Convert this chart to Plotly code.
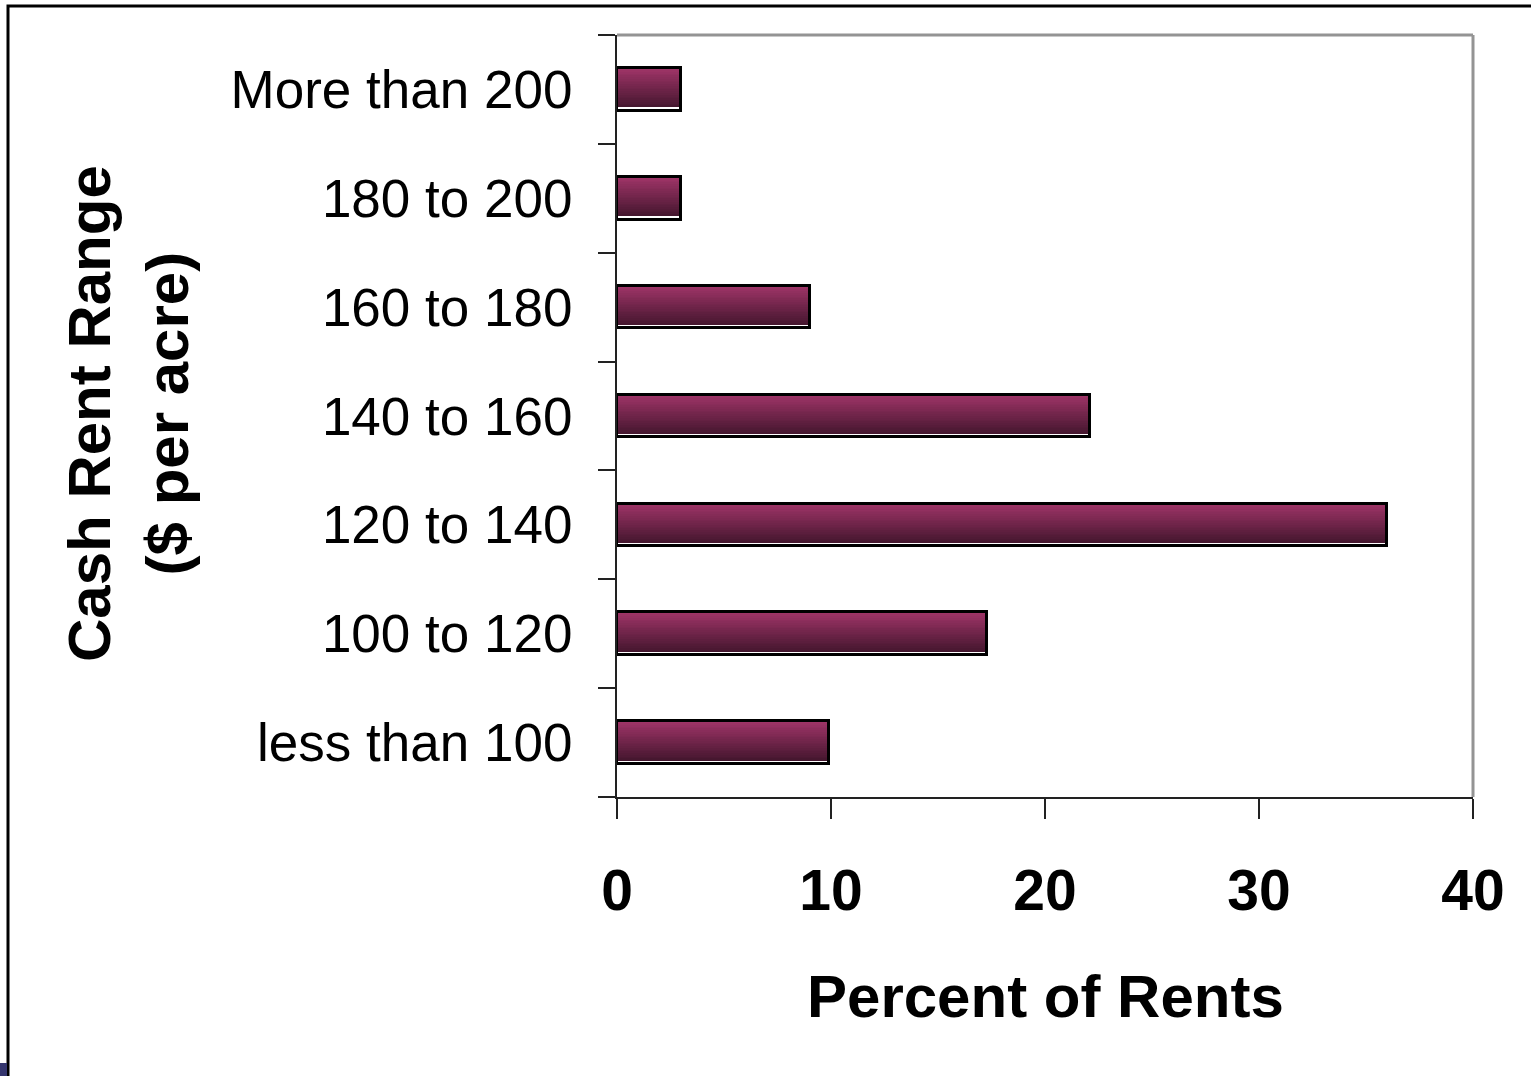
import plotly.graph_objects as go

# Cash rent ranges ($ per acre), listed bottom to top, and share of rents (%)
ranges = ["less than 100", "100 to 120", "120 to 140", "140 to 160",
          "160 to 180", "180 to 200", "More than 200"]
percent = [9.9, 17.3, 36, 22.1, 9, 3, 3]

# Canvas geometry (pixels)
W, H = 1531, 1076
L, R, T, B = 617, 1473, 35, 797
PW, PH = R - L, B - T


def px(x):
    return (x - L) / PW


def py(y):
    return (B - y) / PH


BAR_W = 0.39
N_SLICES = 24
TOP_RGB = (158, 52, 103)
BOT_RGB = (62, 20, 42)

fig = go.Figure()

# Shaded bar body: thin horizontal bands stacked from dark (bottom) to light (top)
for i in range(N_SLICES):
    t = i / (N_SLICES - 1)
    c = tuple(round(BOT_RGB[k] + (TOP_RGB[k] - BOT_RGB[k]) * t) for k in range(3))
    fig.add_trace(go.Bar(
        y=ranges, x=percent, orientation="h",
        width=BAR_W / N_SLICES * 1.15,
        offset=-BAR_W / 2 + i * BAR_W / N_SLICES,
        marker=dict(color="rgb(%d,%d,%d)" % c, line=dict(width=0)),
        hoverinfo="skip", showlegend=False,
    ))

# Thin white highlight along the bottom edge
fig.add_trace(go.Bar(
    y=ranges, x=percent, orientation="h",
    width=0.018, offset=-BAR_W / 2 + 0.012,
    marker=dict(color="white", line=dict(width=0)),
    hoverinfo="skip", showlegend=False,
))

# Black outline
fig.add_trace(go.Bar(
    y=ranges, x=percent, orientation="h",
    width=BAR_W, offset=-BAR_W / 2,
    marker=dict(color="rgba(0,0,0,0)", line=dict(color="black", width=3)),
    hovertemplate="%{y}: %{x}%<extra></extra>", showlegend=False,
))

shapes = [
    # grey frame on the top and right of the plot area
    dict(type="line", xref="paper", yref="paper", x0=0, x1=1, y0=1, y1=1,
         line=dict(color="#949494", width=3)),
    dict(type="line", xref="paper", yref="paper", x0=1, x1=1, y0=0, y1=1,
         line=dict(color="#949494", width=3)),
    # outer page border
    dict(type="rect", xref="paper", yref="paper",
         x0=px(8), x1=px(1560), y0=py(1100), y1=py(6),
         line=dict(color="black", width=3), fillcolor="rgba(0,0,0,0)"),
    # small corner patch
    dict(type="rect", xref="paper", yref="paper",
         x0=px(-2), x1=px(7), y0=py(1078), y1=py(1063),
         line=dict(width=0), fillcolor="#34356e"),
]

annotations = [
    dict(text="Percent of Rents", xref="paper", yref="paper",
         x=0.5, y=py(996), xanchor="center", yanchor="middle", showarrow=False,
         font=dict(family="Liberation Sans, Arial", size=60, color="black", weight="bold")),
    dict(text="Cash Rent Range<br>($ per acre)", xref="paper", yref="paper",
         x=px(128), y=py(414), xanchor="center", yanchor="middle", showarrow=False,
         textangle=-90,
         font=dict(family="Liberation Sans, Arial", size=60, color="black", weight="bold")),
]

fig.update_layout(
    width=W, height=H,
    margin=dict(l=L, r=W - R, t=T, b=H - B, pad=0),
    paper_bgcolor="white", plot_bgcolor="white",
    barmode="overlay", bargap=0,
    shapes=shapes, annotations=annotations,
    showlegend=False,
)

fig.update_xaxes(
    range=[0, 40], dtick=10, tick0=0,
    showgrid=False, zeroline=False,
    showline=True, linecolor="#222", linewidth=2,
    ticks="outside", ticklen=20, tickwidth=1.5, tickcolor="#222",
    ticklabelstandoff=23,
    tickfont=dict(family="Liberation Sans, Arial", size=57, color="black", weight="bold"),
)

fig.update_yaxes(
    type="category", categoryorder="array", categoryarray=ranges,
    range=[-0.5, len(ranges) - 0.5],
    showgrid=False, zeroline=False,
    showline=True, linecolor="#222", linewidth=2,
    ticks="outside", tickson="boundaries", ticklen=17, tickwidth=1.5, tickcolor="#222",
    ticklabelstandoff=32,
    tickfont=dict(family="Liberation Sans, Arial", size=53, color="black"),
)

fig.write_html("out.html")
